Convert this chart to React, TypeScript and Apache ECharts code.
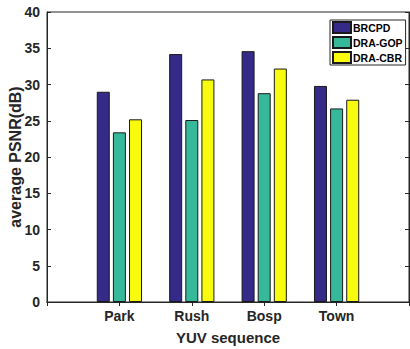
import React, { useEffect, useRef } from "react";
import * as echarts from "echarts";

const categories = ["", "Park", "Rush", "Bosp", "Town", ""];
const brcpd = [null, 29.0, 34.2, 34.6, 29.8, null];
const draGop = [null, 23.4, 25.1, 28.8, 26.7, null];
const draCbr = [null, 25.2, 30.7, 32.2, 27.9, null];
const seriesNames = ["BRCPD", "DRA-GOP", "DRA-CBR"];
const colors = ["#352a87", "#36b99b", "#f9fb0e"];

const FONT = "'Liberation Sans', Arial, sans-serif";
const AXIS = "#262626";

export default function App() {
  const ref = useRef<HTMLDivElement>(null);
  useEffect(() => {
    if (!ref.current) return;
    const chart = echarts.init(ref.current, null, { renderer: "svg" });
    const dataSets = [brcpd, draGop, draCbr];
    const labelStyle = { fontFamily: FONT, fontWeight: "bold" as const, fontSize: 14, color: AXIS };
    chart.setOption({
      animation: false,
      backgroundColor: "#ffffff",
      grid: {
        left: 47,
        right: 1,
        top: 12,
        bottom: 47,
        outerBoundsMode: "none",
        containLabel: false,
        show: true,
        borderColor: AXIS,
        borderWidth: 1,
        backgroundColor: "transparent",
      },
      legend: {
        data: seriesNames,
        orient: "vertical",
        left: 330,
        top: 20,
        backgroundColor: "#ffffff",
        borderColor: AXIS,
        borderWidth: 1,
        borderRadius: 0,
        padding: [1, 3, 1, 2],
        itemGap: 2,
        itemWidth: 18,
        itemHeight: 11,
        icon: "rect",
        textStyle: { fontFamily: FONT, fontWeight: "bold", fontSize: 10.5, color: "#000", padding: [0, 0, 0, -3] },
      },
      xAxis: [
        {
          type: "category",
          data: categories,
          boundaryGap: false,
          position: "bottom",
          name: "YUV sequence",
          nameLocation: "middle",
          nameGap: 28,
          nameMoveOverlap: false,
          nameTextStyle: { fontFamily: FONT, fontWeight: "bold", fontSize: 15, color: AXIS },
          axisLine: { show: true, lineStyle: { color: AXIS, width: 1 } },
          axisTick: { show: true, inside: true, length: 4, lineStyle: { color: AXIS } },
          axisLabel: { ...labelStyle, margin: 7, interval: 0 },
          splitLine: { show: false },
        },
        {
          type: "category",
          data: categories,
          boundaryGap: false,
          position: "top",
          axisLine: { show: true, lineStyle: { color: AXIS, width: 1 } },
          axisTick: { show: true, inside: true, length: 4, lineStyle: { color: AXIS } },
          axisLabel: { show: false },
          splitLine: { show: false },
        },
      ],
      yAxis: [
        {
          type: "value",
          min: 0,
          max: 40,
          interval: 5,
          position: "left",
          name: "average PSNR(dB)",
          nameLocation: "middle",
          nameGap: 24,
          nameMoveOverlap: false,
          nameTextStyle: { fontFamily: FONT, fontWeight: "bold", fontSize: 16, color: AXIS },
          axisLine: { show: true, lineStyle: { color: AXIS, width: 1 } },
          axisTick: { show: true, inside: true, length: 4, lineStyle: { color: AXIS } },
          axisLabel: { ...labelStyle, margin: 7 },
          splitLine: { show: false },
        },
        {
          type: "value",
          min: 0,
          max: 40,
          interval: 5,
          position: "right",
          axisLine: { show: true, lineStyle: { color: AXIS, width: 1 } },
          axisTick: { show: true, inside: true, length: 4, lineStyle: { color: AXIS } },
          axisLabel: { show: false },
          splitLine: { show: false },
        },
      ],
      series: dataSets.map((d, i) => ({
        name: seriesNames[i],
        type: "bar",
        xAxisIndex: 0,
        yAxisIndex: 0,
        data: d,
        barWidth: 13,
        barGap: "24%",
        itemStyle: { color: colors[i], borderColor: "#1a1a1a", borderWidth: 1 },
      })),
    });
    return () => chart.dispose();
  }, []);
  return (
    <div
      ref={ref}
      style={{ width: 410, height: 349, position: "absolute", left: 0, top: 0 }}
    />
  );
}
